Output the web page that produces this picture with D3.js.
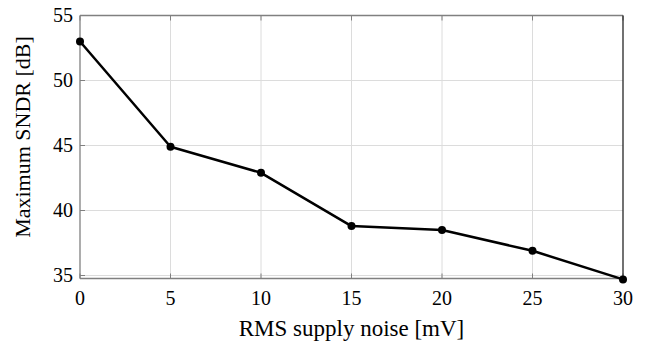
<!DOCTYPE html>
<html>
<head>
  <style>
    body { margin: 0; background: white; }
  </style>
</head>
<body>
  <svg width="646" height="349" font-family="'Liberation Serif', 'Times New Roman', 'DejaVu Serif', Times, serif"></svg>
  <script src="https://d3js.org/d3.v7.min.js"></script>
  <script>
    const noise = [0, 5, 10, 15, 20, 25, 30];
    const sndr = [53.0, 44.9, 42.9, 38.8, 38.5, 36.9, 34.7];
    const xTicks = [0, 5, 10, 15, 20, 25, 30];
    const yTicks = [35, 40, 45, 50, 55];

    const svg = d3.select("svg");
    const pl = 80, pr = 623, pt = 15.5, pb = 278.5;

    const x = d3.scaleLinear().domain([0, 30]).range([pl, pr]);
    const y = d3.scaleLinear().domain([34.77, 55]).range([pb, pt]);

    // grid
    svg.append("g").selectAll("line").data(xTicks.slice(1, -1)).enter().append("line")
      .attr("x1", d => x(d)).attr("x2", d => x(d))
      .attr("y1", pt).attr("y2", pb)
      .attr("stroke", "#dcdcdc").attr("stroke-width", 1);
    svg.append("g").selectAll("line").data(yTicks.slice(0, -1)).enter().append("line")
      .attr("x1", pl).attr("x2", pr)
      .attr("y1", d => y(d)).attr("y2", d => y(d))
      .attr("stroke", "#dcdcdc").attr("stroke-width", 1);

    // inward ticks
    const tl = 5;
    svg.append("g").selectAll("line").data(xTicks).enter().append("line")
      .attr("x1", d => x(d)).attr("x2", d => x(d))
      .attr("y1", pb).attr("y2", pb - tl)
      .attr("stroke", "#808080");
    svg.append("g").selectAll("line").data(xTicks).enter().append("line")
      .attr("x1", d => x(d)).attr("x2", d => x(d))
      .attr("y1", pt).attr("y2", pt + tl)
      .attr("stroke", "#808080");
    svg.append("g").selectAll("line").data(yTicks).enter().append("line")
      .attr("x1", pl).attr("x2", pl + tl)
      .attr("y1", d => y(d)).attr("y2", d => y(d))
      .attr("stroke", "#808080");

    // box
    svg.append("line").attr("x1", pl).attr("x2", pr).attr("y1", pt).attr("y2", pt)
      .attr("stroke", "#808080").attr("stroke-width", 1.3);
    svg.append("line").attr("x1", pl).attr("x2", pr).attr("y1", pb).attr("y2", pb)
      .attr("stroke", "#808080").attr("stroke-width", 1.3);
    svg.append("line").attr("x1", pl).attr("x2", pl).attr("y1", pt).attr("y2", pb)
      .attr("stroke", "#808080").attr("stroke-width", 1.3);
    svg.append("line").attr("x1", pr).attr("x2", pr).attr("y1", pt).attr("y2", pb)
      .attr("stroke", "#262626").attr("stroke-width", 1.3);

    // tick labels
    svg.append("g").selectAll("text").data(xTicks).enter().append("text")
      .attr("x", d => x(d)).attr("y", 305)
      .attr("text-anchor", "middle").attr("font-size", 20)
      .text(d => d);
    svg.append("g").selectAll("text").data(yTicks).enter().append("text")
      .attr("x", pl - 7).attr("y", d => y(d) + 6)
      .attr("text-anchor", "end").attr("font-size", 20)
      .text(d => d);

    // axis labels
    svg.append("text").attr("x", (pl + pr) / 2).attr("y", 336)
      .attr("text-anchor", "middle").attr("font-size", 23)
      .text("RMS supply noise [mV]");
    svg.append("text")
      .attr("transform", "translate(30, 137) rotate(-90)")
      .attr("text-anchor", "middle").attr("font-size", 22)
      .text("Maximum SNDR [dB]");

    // data line
    const line = d3.line().x((d, i) => x(noise[i])).y(d => y(d));
    svg.append("path").datum(sndr).attr("d", line)
      .attr("fill", "none").attr("stroke", "#000").attr("stroke-width", 2.5)
      .attr("stroke-linejoin", "round");
    svg.append("g").selectAll("circle").data(sndr).enter().append("circle")
      .attr("cx", (d, i) => x(noise[i])).attr("cy", d => y(d))
      .attr("r", 4).attr("fill", "#000");
  </script>
</body>
</html>
